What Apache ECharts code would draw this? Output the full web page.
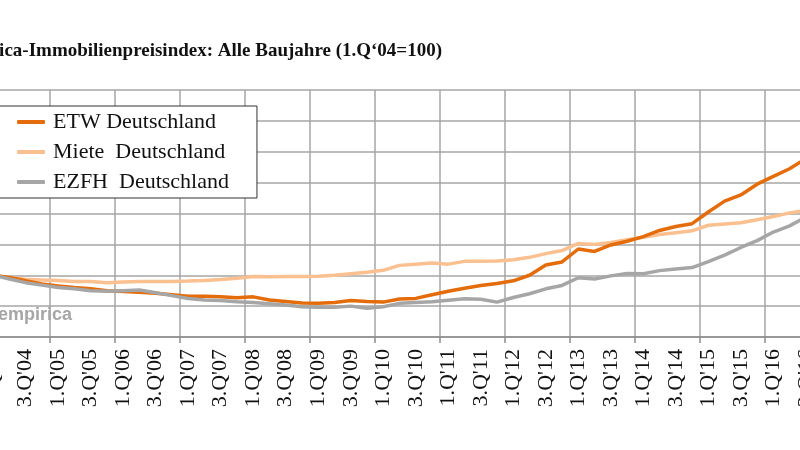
<!DOCTYPE html>
<html>
<head>
<meta charset="utf-8">
<script src="https://cdn.jsdelivr.net/npm/echarts@6/dist/echarts.min.js"></script>
<style>
  html, body { margin: 0; padding: 0; background: #fff; overflow: hidden; }
  #chart { width: 800px; height: 450px; }
</style>
</head>
<body>
<div id="chart"></div>
<script>
// Quartale 1.Q'04 .. 3.Q'16
var quarters = [
  "1.Q'04", "2.Q'04", "3.Q'04", "4.Q'04", "1.Q'05", "2.Q'05", "3.Q'05", "4.Q'05",
  "1.Q'06", "2.Q'06", "3.Q'06", "4.Q'06", "1.Q'07", "2.Q'07", "3.Q'07", "4.Q'07",
  "1.Q'08", "2.Q'08", "3.Q'08", "4.Q'08", "1.Q'09", "2.Q'09", "3.Q'09", "4.Q'09",
  "1.Q'10", "2.Q'10", "3.Q'10", "4.Q'10", "1.Q'11", "2.Q'11", "3.Q'11", "4.Q'11",
  "1.Q'12", "2.Q'12", "3.Q'12", "4.Q'12", "1.Q'13", "2.Q'13", "3.Q'13", "4.Q'13",
  "1.Q'14", "2.Q'14", "3.Q'14", "4.Q'14", "1.Q'15", "2.Q'15", "3.Q'15", "4.Q'15",
  "1.Q'16", "2.Q'16", "3.Q'16"
]

var etw = [
  100, 99.3, 98.2, 97.2, 96.5, 96.0, 95.6, 95.0,
  94.7, 94.5, 94.2, 93.7, 93.2, 93.2, 93.0, 92.7,
  93.0, 92.0, 91.5, 91.0, 90.9, 91.2, 91.8, 91.5,
  91.3, 92.3, 92.5, 93.7, 94.8, 95.8, 96.7, 97.3,
  98.2, 100.0, 103.3, 104.3, 108.5, 107.7, 109.8, 111.0,
  112.5, 114.5, 115.8, 116.7, 120.5, 124.0, 126.0, 129.5,
  132.0, 134.5, 137.8
]

var miete = [
  100, 99.2, 98.7, 98.5, 98.3, 98.0, 98.0, 97.6,
  97.8, 98.0, 98.0, 98.0, 98.1, 98.3, 98.6, 99.0,
  99.6, 99.5, 99.6, 99.6, 99.7, 100.0, 100.5, 101.0,
  101.6, 103.2, 103.6, 104.0, 103.6, 104.5, 104.5, 104.6,
  105.0, 105.8, 107.0, 108.0, 110.3, 110.0, 110.6, 111.5,
  112.3, 113.2, 113.8, 114.4, 116.2, 116.6, 117.0, 118.0,
  119.0, 120.2, 121.0
]

var ezfh = [
  100, 98.8, 97.6, 96.8, 96.0, 95.6, 95.0, 94.8,
  95.0, 95.2, 94.3, 93.4, 92.5, 92.0, 91.8, 91.4,
  91.2, 90.8, 90.4, 89.8, 89.6, 89.6, 90.0, 89.3,
  89.8, 90.9, 91.2, 91.4, 91.9, 92.4, 92.2, 91.3,
  92.8, 94.0, 95.6, 96.7, 99.2, 98.8, 99.8, 100.6,
  100.5, 101.5, 102.0, 102.5, 104.4, 106.5, 109.0, 111.2,
  114.0, 116.0, 118.8
]

var chart = echarts.init(document.getElementById('chart'))
var option = {
  animation: false,
  backgroundColor: '#fff',
  title: {
    text: "empirica-Immobilienpreisindex: Alle Baujahre (1.Q\u201804=100)",
    right: 358,
    top: 42,
    padding: 0,
    textStyle: {
      fontFamily: 'Liberation Serif',
      fontWeight: 'bold',
      fontSize: 19,
      color: '#111'
    }
  },
  legend: {
    orient: 'vertical',
    left: -20,
    top: 106,
    padding: [5, 28, 5, 37],
    itemGap: 8,
    itemWidth: 28,
    itemHeight: 4,
    icon: 'roundRect',
    borderColor: '#333',
    borderWidth: 1,
    backgroundColor: '#fff',
    textStyle: {
      fontFamily: 'Liberation Serif',
      fontSize: 22,
      lineHeight: 22,
      padding: [0, 0, 0, 3],
      color: '#111'
    },
    data: ['ETW Deutschland', 'Miete  Deutschland', 'EZFH  Deutschland']
  },
  graphic: [{
    type: 'text',
    left: -2,
    top: 306,
    z: 1,
    style: {
      text: 'empirica',
      fill: '#a6a6a6',
      font: 'bold 18px "Liberation Sans"'
    }
  }],
  grid: {
    left: -15,
    right: -14,
    top: 90,
    bottom: 113,
    outerBoundsMode: 'none'
  },
  xAxis: {
    type: 'category',
    data: quarters,
    boundaryGap: true,
    axisLine: { lineStyle: { color: '#8c8c8c', width: 1.5 } },
    axisTick: { show: true, interval: 3, length: 6, lineStyle: { color: '#8c8c8c', width: 1.5 } },
    splitLine: { show: true, interval: 3, lineStyle: { color: '#a6a6a6', width: 1.5 } },
    axisLabel: {
      interval: 1,
      rotate: 90,
      margin: 12,
      fontFamily: 'Liberation Serif',
      fontSize: 22,
      color: '#111'
    }
  },
  yAxis: {
    type: 'value',
    min: 80,
    max: 160,
    interval: 10,
    axisLabel: { show: false },
    axisLine: { show: false },
    axisTick: { show: false },
    splitLine: { lineStyle: { color: '#a6a6a6', width: 1.5 } }
  },
  series: [
    {
      name: 'ETW Deutschland',
      type: 'line',
      data: etw,
      showSymbol: false,
      z: 4,
      itemStyle: { color: '#e46c0a' },
      lineStyle: { color: '#e46c0a', width: 3.5 }
    },
    {
      name: 'Miete  Deutschland',
      type: 'line',
      data: miete,
      showSymbol: false,
      z: 3,
      itemStyle: { color: '#fac090' },
      lineStyle: { color: '#fac090', width: 3.5 }
    },
    {
      name: 'EZFH  Deutschland',
      type: 'line',
      data: ezfh,
      showSymbol: false,
      z: 5,
      itemStyle: { color: '#a6a6a6' },
      lineStyle: { color: '#a6a6a6', width: 3.5 }
    }
  ]
}
chart.setOption(option)
</script>
</body>
</html>
